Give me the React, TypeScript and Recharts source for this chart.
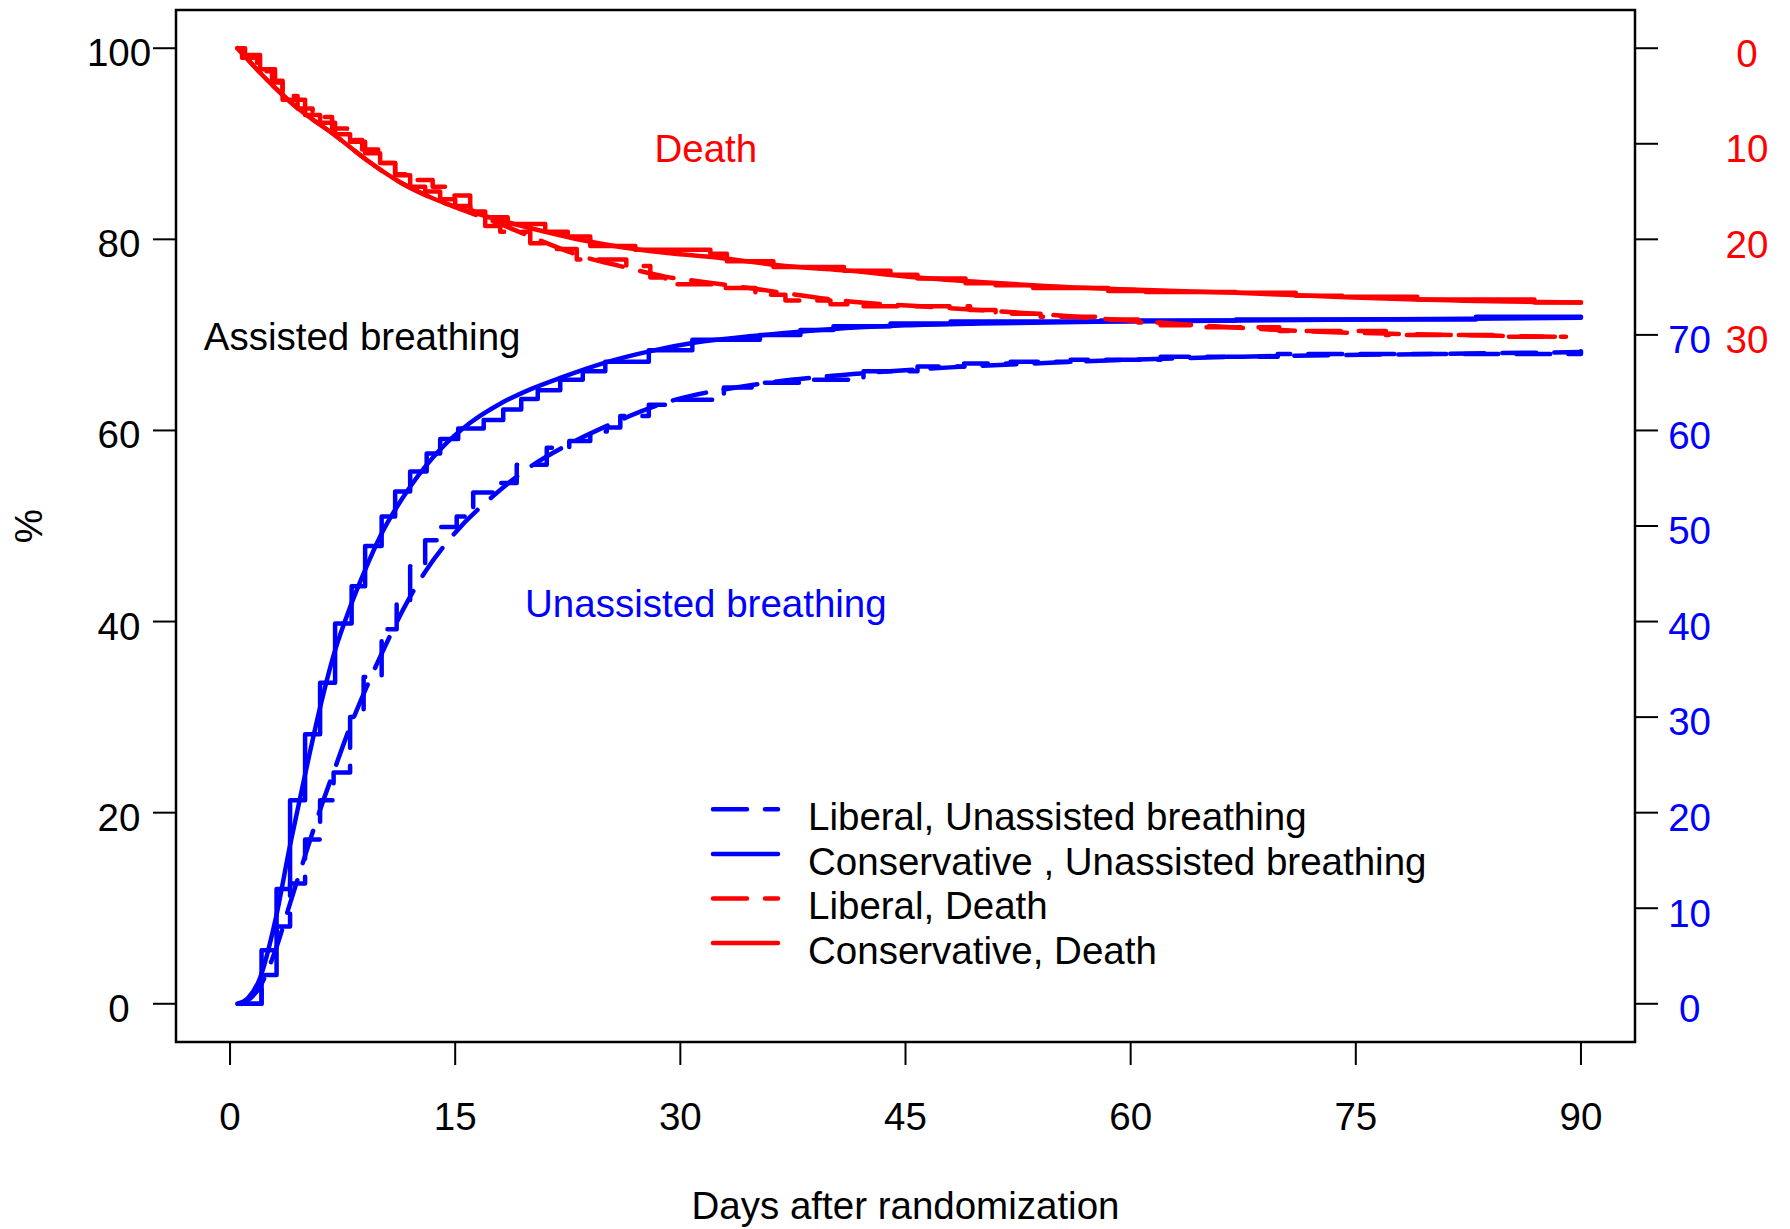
import React from 'react';
import { LineChart, Line, XAxis, YAxis, ReferenceArea, ReferenceDot, Legend } from 'recharts';

const RED = '#FF0000';
const BLUE = '#0000FF';
const FONT = '"Liberation Sans", Arial, Helvetica, sans-serif';
const FS = 38.5;
const DASH = '34 18';

// Axis ticks
const dayTicks = [0, 15, 30, 45, 60, 75, 90];
const pctTicks = [0, 20, 40, 60, 80, 100];
const rightTicks = [0, 10, 20, 30, 40, 50, 60, 70, 80, 90, 100];

// Kaplan-Meier estimates, [day, %]
const libUnassistedKM: [number, number][] = [
  [0.8, 0], [2.1, 3.0], [3.1, 8.1], [4.0, 12.6], [5.0, 17.2], [6.0, 21.3], [6.9, 24.2], [8.0, 30.0],
  [8.9, 34.2], [10.1, 39.2], [11.1, 41.9], [12.0, 45.8], [13.0, 48.5], [14.0, 49.9], [15.1, 51.0],
  [16.2, 53.5], [17.5, 54.5], [19.1, 56.4], [21.1, 58.2], [22.6, 58.9], [24.0, 59.9], [25.1, 60.3],
  [26.0, 61.5], [27.9, 62.7], [29.1, 63.2], [32.2, 63.8], [32.9, 64.5], [35.5, 65.0], [38.0, 65.3],
  [42.2, 66.2], [45.8, 66.7], [48.9, 67.0], [52.0, 67.2], [56.0, 67.4], [62.0, 67.7], [69.8, 68.0],
  [90, 68.3],
];
const consUnassistedKM: [number, number][] = [
  [0.5, 0], [2.1, 5.6], [3.1, 12.0], [4.0, 21.3], [5.0, 28.2], [6.0, 33.6], [7.0, 39.8], [8.1, 43.7],
  [9.0, 47.9], [10.1, 51.0], [11.0, 53.6], [12.0, 55.7], [13.1, 57.6], [14.0, 59.1], [15.2, 60.2],
  [16.9, 61.1], [18.2, 62.2], [19.4, 63.3], [20.5, 64.2], [22.0, 65.3], [23.5, 66.2], [25.0, 67.2],
  [27.9, 68.4], [30.8, 69.5], [35.3, 70.0], [38.0, 70.5], [40.2, 70.9], [44.0, 71.2], [48.0, 71.4],
  [58.0, 71.5], [67.0, 71.6], [83.0, 71.9], [90, 71.9],
];
const libDeathKM: [number, number][] = [
  [0.5, 100], [0.8, 99.0], [1.8, 97.6], [2.8, 96.4], [3.5, 95.0], [4.5, 93.7], [5.5, 92.8], [6.8, 91.6],
  [7.8, 90.4], [8.8, 89.4], [10.0, 88.0], [11.0, 86.8], [12.0, 86.2], [13.5, 85.5], [14.5, 84.6],
  [16.0, 83.0], [17.0, 81.4], [18.0, 80.8], [20.0, 79.6], [21.0, 79.0], [23.1, 77.9], [26.4, 77.2],
  [28.0, 76.0], [29.0, 75.3], [33.0, 74.9], [35.0, 74.2], [37.0, 73.6], [40.0, 73.2], [42.0, 73.0],
  [49.3, 72.6], [51.0, 72.2], [54.0, 71.9], [58.0, 71.6], [60.5, 71.3], [62.0, 71.0], [65.0, 70.8],
  [69.9, 70.4], [77.0, 70.0], [84.6, 69.8], [89, 69.8],
];
const consDeathKM: [number, number][] = [
  [0.5, 100], [1.0, 99.3], [2.0, 97.8], [3.0, 96.6], [3.5, 94.6], [5.0, 93.0], [6.0, 92.2], [7.0, 91.0],
  [8.0, 90.2], [9.0, 89.0], [10.0, 88.0], [11.0, 86.7], [12.0, 85.5], [13.0, 85.0], [14.0, 84.2],
  [15.0, 83.5], [16.0, 82.9], [17.0, 82.3], [18.5, 81.6], [21.0, 80.8], [22.5, 80.3], [24.0, 79.3],
  [27.0, 78.9], [32.0, 78.5], [33.1, 77.7], [36.2, 77.1], [40.9, 76.7], [44.0, 76.3], [45.8, 75.9],
  [49.0, 75.4], [51.0, 75.2], [53.5, 74.9], [58.5, 74.6], [61.0, 74.5], [67.0, 74.4], [71.0, 74.1],
  [74.1, 74.0], [79.1, 73.7], [86.9, 73.4], [90, 73.4],
];

// Smoothed cumulative incidence curves, [day, %]
const libUnassistedFit: [number, number][] = [
  [0.8, 0], [2, 1.8], [3, 5.5], [4, 10.5], [5, 15.5], [6, 20.3], [7, 24.7], [8, 29.0], [9, 32.8],
  [10, 36.3], [11, 39.6], [12, 42.6], [13, 45.2], [15, 49.3], [17.5, 53.1], [20, 56.2], [22.5, 58.5],
  [25, 60.4], [29, 62.9], [35, 64.8], [41.5, 65.9], [48, 66.6], [55, 67.1], [60, 67.4], [70, 67.8],
  [80, 68.0], [90, 68.2],
];
const consUnassistedFit: [number, number][] = [
  [0.5, 0], [1.2, 0.6], [2, 2.7], [3, 8.6], [4, 16.6], [5, 24.0], [6, 31.0], [7, 37.0], [8, 41.5],
  [9, 45.4], [10, 48.9], [12, 54.1], [14, 58.0], [16, 60.8], [18, 62.8], [20, 64.3], [22, 65.5],
  [25, 67.1], [28, 68.3], [31, 69.2], [35, 69.9], [40, 70.6], [45, 71.0], [50, 71.2], [60, 71.4],
  [75, 71.6], [90, 71.8],
];
const libDeathFit: [number, number][] = [
  [0.5, 100], [2.4, 96.8], [4.6, 93.6], [6.9, 91.0], [9.1, 88.3], [11.3, 86.0], [13.5, 84.3],
  [15.8, 82.9], [18, 81.6], [20, 80.3], [23.5, 78.2], [26, 77.2], [29, 76.1], [31.3, 75.6], [34.6, 74.9],
  [41.3, 73.5], [48, 72.8], [54.6, 72.1], [58, 71.7], [64.6, 71.0], [71.3, 70.4], [78, 70.1],
  [84.6, 69.9], [89, 69.8],
];
const consDeathFit: [number, number][] = [
  [0.5, 100], [2.4, 96.8], [4.6, 93.6], [6.9, 91.0], [9.1, 88.3], [11.3, 86.0], [13.5, 84.3],
  [15.8, 83.0], [18, 82.0], [21, 80.8], [23.5, 79.9], [26, 79.2], [29, 78.6], [32.4, 78.1], [37, 77.2],
  [41.3, 76.7], [45.8, 76.0], [50.2, 75.5], [54.6, 75.1], [61, 74.7], [67, 74.4], [73.5, 74.0],
  [79, 73.7], [90, 73.4],
];

// Legend entries
const legendNames = [
  'Liberal, Unassisted breathing',
  'Conservative , Unassisted breathing',
  'Liberal, Death',
  'Conservative, Death',
];
const legendColors = [BLUE, BLUE, RED, RED];
const legendDashed = [true, false, true, false];

// In-plot annotations, [day, %]
const annotations = [
  { day: 31.7, pct: 89.5, text: 'Death', color: RED },
  { day: 8.8, pct: 69.9, text: 'Assisted breathing', color: '#000000' },
  { day: 31.7, pct: 41.9, text: 'Unassisted breathing', color: BLUE },
];

const toRows = (pts: [number, number][]) => pts.map(([day, pct]) => ({ day, pct }));

const W = 1790;
const H = 1229;

const XTick = (props: any) => {
  const { x, payload } = props;
  return (
    <text x={x} y={1130} textAnchor="middle" fontFamily={FONT} fontSize={FS} fill="#000">
      {payload.value}
    </text>
  );
};

const LeftTick = (props: any) => {
  const { y, payload } = props;
  return (
    <text x={119} y={y + 18} textAnchor="middle" fontFamily={FONT} fontSize={FS} fill="#000">
      {payload.value}
    </text>
  );
};

const RightTick = (props: any) => {
  const { y, payload } = props;
  const v = payload.value as number;
  return (
    <g>
      {v <= 70 && (
        <text x={1689.6} y={y + 18.3} textAnchor="middle" fontFamily={FONT} fontSize={FS} fill={BLUE}>
          {v}
        </text>
      )}
      {v >= 70 && (
        <text x={1747} y={y + 18.3} textAnchor="middle" fontFamily={FONT} fontSize={FS} fill={RED}>
          {100 - v}
        </text>
      )}
    </g>
  );
};

const XTitle = (props: any) => {
  const vb = props.viewBox || { x: 176, width: 1459, y: 1042 };
  return (
    <text x={vb.x + vb.width / 2} y={1219} textAnchor="middle" fontFamily={FONT} fontSize={FS} fill="#000">
      Days after randomization
    </text>
  );
};

const YTitle = () => (
  <text x={42} y={526} transform="rotate(-90, 42, 526)" textAnchor="middle" fontFamily={FONT} fontSize={FS} fill="#000">
    %
  </text>
);

const LegendBox = () => (
  <svg width={720} height={210} style={{ display: 'block', overflow: 'visible' }}>
    {legendNames.map((name, i) => {
      const ly = 29.3 + 44.6 * i;
      return (
        <g key={name}>
          <line
            x1={13}
            x2={78}
            y1={ly}
            y2={ly}
            stroke={legendColors[i]}
            strokeWidth={4.5}
            strokeLinecap="round"
            strokeDasharray={legendDashed[i] ? DASH : undefined}
          />
          <text x={108} y={ly + 20.6} fontFamily={FONT} fontSize={FS} fill="#000">
            {name}
          </text>
        </g>
      );
    })}
  </svg>
);

const lineCommon = {
  dataKey: 'pct',
  dot: false,
  activeDot: false,
  isAnimationActive: false,
  strokeWidth: 4.5,
  strokeLinecap: 'round' as const,
  strokeLinejoin: 'round' as const,
};

export default function App() {
  return (
    <div style={{ position: 'absolute', left: 0, top: 0, width: W, height: H, background: '#ffffff' }}>
      <LineChart width={W} height={H} margin={{ top: 10, right: 55, bottom: 87, left: 76 }}>
        <XAxis
          dataKey="day"
          type="number"
          domain={[-3.6, 93.6]}
          ticks={dayTicks}
          allowDataOverflow
          height={100}
          tickSize={23}
          tickMargin={0}
          axisLine={false}
          tickLine={{ stroke: '#000', strokeWidth: 2 }}
          tick={<XTick />}
          label={<XTitle />}
        />
        <YAxis
          type="number"
          domain={[-4, 104]}
          ticks={pctTicks}
          allowDataOverflow
          width={100}
          tickSize={23}
          tickMargin={0}
          axisLine={false}
          tickLine={{ stroke: '#000', strokeWidth: 2 }}
          tick={<LeftTick />}
          label={<YTitle />}
        />
        <YAxis
          yAxisId="right"
          orientation="right"
          type="number"
          domain={[-4, 104]}
          ticks={rightTicks}
          allowDataOverflow
          width={100}
          tickSize={23}
          tickMargin={0}
          axisLine={false}
          tickLine={{ stroke: '#000', strokeWidth: 2 }}
          tick={<RightTick />}
        />
        <ReferenceArea x1={-3.6} x2={93.6} y1={-4} y2={104} fill="none" stroke="#000" strokeWidth={2.5} />

        <Line {...lineCommon} data={toRows(libUnassistedKM)} type="stepAfter" stroke={BLUE} strokeDasharray={DASH} legendType="none" name="Liberal KM unassisted" />
        <Line {...lineCommon} data={toRows(libUnassistedFit)} type="monotone" stroke={BLUE} strokeDasharray={DASH} name={legendNames[0]} />
        <Line {...lineCommon} data={toRows(consUnassistedKM)} type="stepAfter" stroke={BLUE} legendType="none" name="Conservative KM unassisted" />
        <Line {...lineCommon} data={toRows(consUnassistedFit)} type="monotone" stroke={BLUE} name={legendNames[1]} />
        <Line {...lineCommon} data={toRows(libDeathKM)} type="stepAfter" stroke={RED} strokeDasharray={DASH} legendType="none" name="Liberal KM death" />
        <Line {...lineCommon} data={toRows(libDeathFit)} type="monotone" stroke={RED} strokeDasharray={DASH} name={legendNames[2]} />
        <Line {...lineCommon} data={toRows(consDeathKM)} type="stepAfter" stroke={RED} legendType="none" name="Conservative KM death" />
        <Line {...lineCommon} data={toRows(consDeathFit)} type="monotone" stroke={RED} name={legendNames[3]} />

        {annotations.map((a) => (
          <ReferenceDot
            key={a.text}
            x={a.day}
            y={a.pct}
            r={0}
            fill="none"
            stroke="none"
            label={(p: any) => {
              const vb = p.viewBox || {};
              const cx = (vb.x ?? 0) + (vb.width ?? 0) / 2;
              const cy = (vb.y ?? 0) + (vb.height ?? 0) / 2;
              return (
                <text x={cx} y={cy + 13.7} textAnchor="middle" fontFamily={FONT} fontSize={FS} fill={a.color}>
                  {a.text}
                </text>
              );
            }}
          />
        ))}

        <Legend
          layout="vertical"
          align="center"
          verticalAlign="middle"
          content={<LegendBox />}
          wrapperStyle={{ left: 700, top: 780, width: 720, height: 210, pointerEvents: 'none' }}
        />
      </LineChart>
    </div>
  );
}
